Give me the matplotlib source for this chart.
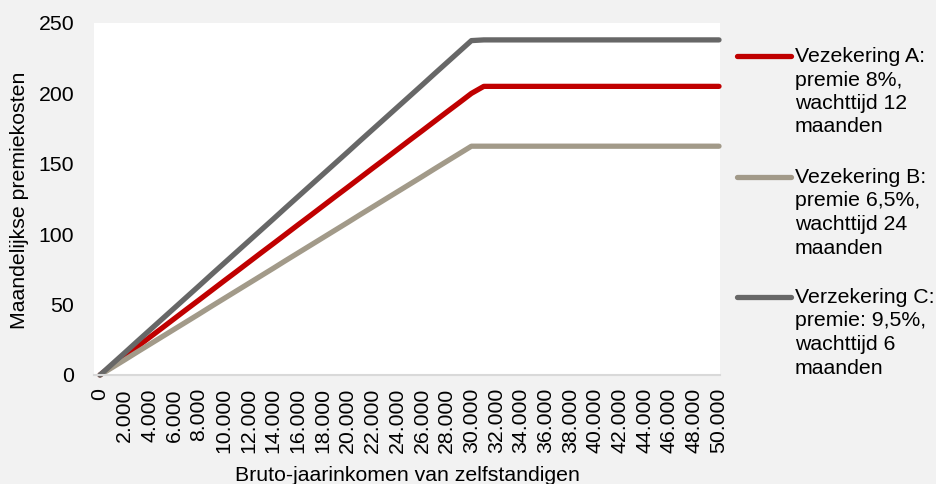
import matplotlib
matplotlib.use("Agg")
import matplotlib.pyplot as plt
from matplotlib.lines import Line2D

plt.rcParams['font.family'] = ['Liberation Sans', 'DejaVu Sans']

# income categories (every 1000), tick labels every 2000
income = [0, 1000, 2000, 3000, 4000, 5000, 6000, 7000, 8000, 9000, 10000,
          11000, 12000, 13000, 14000, 15000, 16000, 17000, 18000, 19000, 20000,
          21000, 22000, 23000, 24000, 25000, 26000, 27000, 28000, 29000, 30000,
          31000, 32000, 33000, 34000, 35000, 36000, 37000, 38000, 39000, 40000,
          41000, 42000, 43000, 44000, 45000, 46000, 47000, 48000, 49000, 50000]
tick_values = [0, 2000, 4000, 6000, 8000, 10000, 12000, 14000, 16000, 18000, 20000,
               22000, 24000, 26000, 28000, 30000, 32000, 34000, 36000, 38000, 40000,
               42000, 44000, 46000, 48000, 50000]
tick_labels = ["0", "2.000", "4.000", "6.000", "8.000", "10.000", "12.000", "14.000",
               "16.000", "18.000", "20.000", "22.000", "24.000", "26.000", "28.000",
               "30.000", "32.000", "34.000", "36.000", "38.000", "40.000", "42.000",
               "44.000", "46.000", "48.000", "50.000"]

series_a = [0, 6.7, 13.3, 20, 26.7, 33.3, 40, 46.7, 53.3, 60, 66.7, 73.3, 80, 86.7,
            93.3, 100, 106.7, 113.3, 120, 126.7, 133.3, 140, 146.7, 153.3, 160, 166.7,
            173.3, 180, 186.7, 193.3, 200,
            205, 205, 205, 205, 205, 205, 205, 205, 205, 205,
            205, 205, 205, 205, 205, 205, 205, 205, 205, 205]
series_b = [0, 5.4, 10.8, 16.3, 21.7, 27.1, 32.5, 37.9, 43.3, 48.8, 54.2, 59.6, 65,
            70.4, 75.8, 81.3, 86.7, 92.1, 97.5, 102.9, 108.3, 113.8, 119.2, 124.6, 130,
            135.4, 140.8, 146.3, 151.7, 157.1, 162.5,
            162.5, 162.5, 162.5, 162.5, 162.5, 162.5, 162.5, 162.5, 162.5, 162.5,
            162.5, 162.5, 162.5, 162.5, 162.5, 162.5, 162.5, 162.5, 162.5, 162.5]
series_c = [0, 7.9, 15.8, 23.8, 31.7, 39.6, 47.5, 55.4, 63.3, 71.3, 79.2, 87.1, 95,
            102.9, 110.8, 118.8, 126.7, 134.6, 142.5, 150.4, 158.3, 166.3, 174.2, 182.1,
            190, 197.9, 205.8, 213.8, 221.7, 229.6, 237.5,
            238, 238, 238, 238, 238, 238, 238, 238, 238, 238,
            238, 238, 238, 238, 238, 238, 238, 238, 238, 238]

labels = ["Vezekering A:\npremie 8%,\nwachttijd 12\nmaanden",
          "Vezekering B:\npremie 6,5%,\nwachttijd 24\nmaanden",
          "Verzekering C:\npremie: 9,5%,\nwachttijd 6\nmaanden"]
colors = ["#C00000", "#A29A89", "#676767"]
y_ticks = [0, 50, 100, 150, 200, 250]

FS = 15.3

W, H = 936, 484
fig = plt.figure(figsize=(W / 100, H / 100), dpi=100, facecolor="#F2F2F2")
ax = fig.add_axes([94 / W, 1 - 375 / H, (720 - 94) / W, (375 - 23) / H])
ax.set_facecolor("white")

for ys, col in zip([series_a, series_b, series_c], colors):
    ax.plot(income, ys, color=col, lw=3.8, solid_capstyle="round",
            solid_joinstyle="round", clip_on=False)

ax.set_xlim(-485, 50080)
ax.set_ylim(0, 250)
ax.set_yticks(y_ticks)
ax.set_xticks(tick_values)
ax.set_xticklabels(tick_labels, rotation=90, fontsize=FS)
ax.tick_params(axis="x", length=0, pad=9.5)
ax.tick_params(axis="y", length=0, pad=14.4, labelsize=FS)
for s in ["top", "right", "left"]:
    ax.spines[s].set_visible(False)
ax.spines["bottom"].set_color("#D9D9D9")
ax.spines["bottom"].set_linewidth(1.5)

ax.set_xlabel("Bruto-jaarinkomen van zelfstandigen", fontsize=FS, labelpad=9)
ax.set_ylabel("Maandelijkse premiekosten", fontsize=FS)
ax.yaxis.set_label_coords(29 / W, 1 - 200 / H, transform=fig.transFigure)

# legend
legend_y = [56, 177, 297]
for lab, col, ly in zip(labels, colors, legend_y):
    yf = 1 - ly / H
    fig.add_artist(Line2D([737 / W, 791 / W], [yf, yf], color=col, lw=3.8,
                          solid_capstyle="round", transform=fig.transFigure))
    fig.text(795 / W, 1 - (ly - 9) / H, lab, fontsize=FS, va="top", ha="left",
             linespacing=1.3)

fig.savefig("out.png", dpi=100, facecolor=fig.get_facecolor())
